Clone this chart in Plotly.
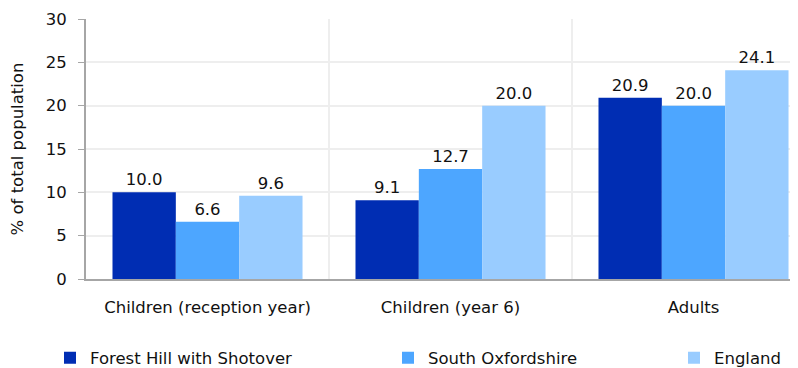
import plotly.graph_objects as go

categories = ["Children (reception year)", "Children (year 6)", "Adults"]
series_names = ["Forest Hill with Shotover", "South Oxfordshire", "England"]
forest_hill = [10.0, 9.1, 20.9]
south_oxon = [6.6, 12.7, 20.0]
england = [9.6, 20.0, 24.1]
colors = ["#002DB3", "#4DA6FF", "#99CCFF"]
y_ticks = [0, 5, 10, 15, 20, 25, 30]

FAM = "DejaVu Sans, Arial"
font = dict(family=FAM, size=16.5, color="#111111")

# the page adds an 8px body margin, so the layout is shifted up/left by 8px
OFF = 8

fig = go.Figure()
legend_ids = ["legend", "legend2", "legend3"]
for name, vals, col, lg in zip(series_names, [forest_hill, south_oxon, england], colors, legend_ids):
    fig.add_trace(go.Bar(
        x=categories, y=vals, name=name, marker=dict(color=col, line=dict(width=0)),
        text=[f"{v:.1f}" for v in vals], textposition="outside",
        textfont=font, cliponaxis=False, legend=lg,
    ))

# vertical separators between categories
for xv in [0.5, 1.5]:
    fig.add_shape(type="line", xref="x", yref="y", x0=xv, x1=xv, y0=0, y1=30,
                  line=dict(color="#eeeeee", width=2), layer="below")

legend_common = dict(orientation="h", yanchor="middle", xanchor="left", yref="container",
                     xref="container", font=font, bgcolor="rgba(0,0,0,0)",
                     tracegroupgap=0, itemsizing="constant")
ly = (368 - (358 - OFF)) / 368
fig.update_layout(
    width=798, height=368,
    margin=dict(l=86 - OFF, r=OFF, t=19 - OFF, b=89 + OFF),
    paper_bgcolor="white", plot_bgcolor="white",
    font=font,
    barmode="group", bargap=0.218, bargroupgap=0,
    showlegend=True,
    legend=dict(**legend_common, x=(50 - OFF) / 798, y=ly),
    legend2=dict(**legend_common, x=(388 - OFF) / 798, y=ly),
    legend3=dict(**legend_common, x=(674 - OFF) / 798, y=ly),
    xaxis=dict(range=[-0.5, 2.43], showgrid=False, showline=True, linecolor="#a6a6a6",
               linewidth=2, ticks="", ticklabelstandoff=12, zeroline=False,
               tickfont=font, automargin=False),
    yaxis=dict(range=[0, 30], tickvals=y_ticks, showgrid=True, gridcolor="#eeeeee",
               gridwidth=2, showline=True, linecolor="#a6a6a6", linewidth=2,
               ticks="outside", ticklen=6, tickcolor="#a6a6a6", zeroline=False,
               ticklabelstandoff=8, automargin=False,
               title=dict(text="% of total population", font=font, standoff=20),
               tickfont=font),
)

fig.write_html("out.html")
